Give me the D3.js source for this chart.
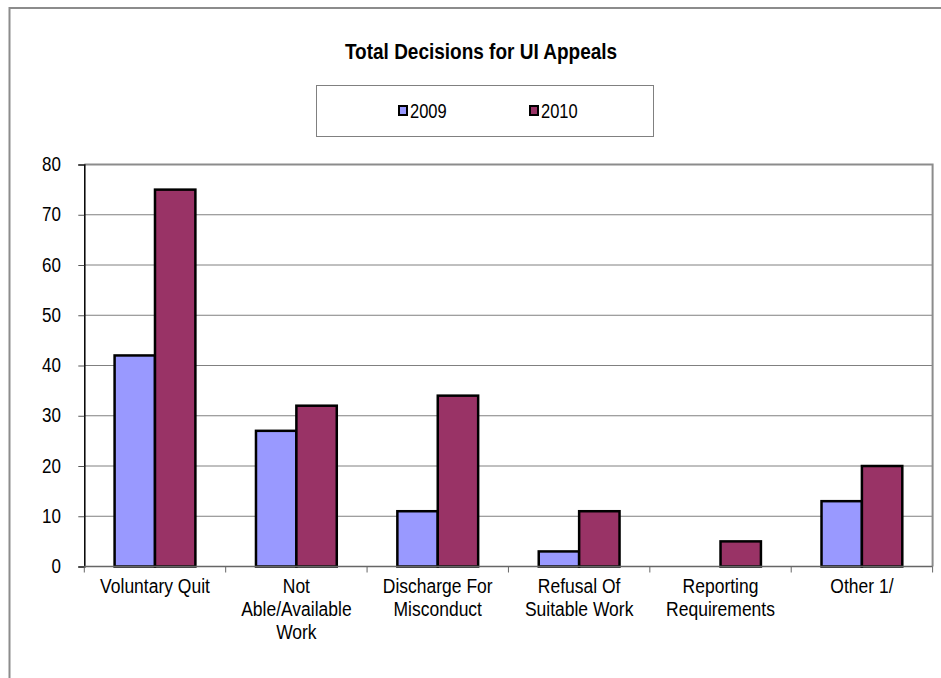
<!DOCTYPE html>
<html>
<head>
<meta charset="utf-8">
<script src="https://cdn.jsdelivr.net/npm/d3@7"></script>
<style>
  html, body { margin: 0; padding: 0; background: #fff; }
  svg { display: block; font-family: "Liberation Sans", Arial, sans-serif; }
</style>
</head>
<body>
<svg id="chart" width="941" height="678"></svg>
<script>
const categories = [
  ["Voluntary Quit"],
  ["Not", "Able/Available", "Work"],
  ["Discharge For", "Misconduct"],
  ["Refusal Of", "Suitable Work"],
  ["Reporting", "Requirements"],
  ["Other 1/"]
];
const seriesNames = ["2009", "2010"];
const values2009 = [42, 27, 11, 3, 0, 13];
const values2010 = [75, 32, 34, 11, 5, 20];
const yTicks = [0, 10, 20, 30, 40, 50, 60, 70, 80];
const colors = ["#9999FF", "#993366"];

(function () {
const svg = d3.select("#chart");
const SY = 1.2; // vertical stretch of the reference's text

// outer chart border
svg.append("rect").attr("x", 9.5).attr("y", 8).attr("width", 1000).attr("height", 800)
  .attr("fill", "#fff").attr("stroke", "#8c8c8c").attr("stroke-width", 2);

const pL = 84.3, pR = 932.6, pT = 164.5, pB = 566.5;

const x0 = d3.scaleBand().domain(d3.range(categories.length)).range([pL, pR]).paddingInner(0).paddingOuter(0);
const barW = x0.bandwidth() / 3.5;
const x1 = d3.scaleBand().domain(seriesNames).range([0, barW * 2]);
const y = d3.scaleLinear().domain([0, 80]).range([pB, pT]);

// gridlines
svg.append("g").selectAll("line").data(yTicks.filter(d => d > 0 && d < 80)).join("line")
  .attr("x1", pL).attr("x2", pR)
  .attr("y1", d => y(d)).attr("y2", d => y(d))
  .attr("stroke", "#808080").attr("stroke-width", 1);

// plot area top/right border
svg.append("path")
  .attr("d", `M${pL},${y(80)}H${pR}V${pB}`)
  .attr("fill", "none").attr("stroke", "#8c8c8c").attr("stroke-width", 2);

// bars
const data = categories.map((c, i) => ({ i, vals: [values2009[i], values2010[i]] }));
const groups = svg.append("g").selectAll("g").data(data).join("g")
  .attr("transform", d => `translate(${x0(d.i) + (x0.bandwidth() - barW * 2) / 2},0)`);
groups.selectAll("rect").data(d => d.vals.map((v, k) => ({ v, k })).filter(o => o.v > 0)).join("rect")
  .attr("x", o => x1(seriesNames[o.k]))
  .attr("y", o => y(o.v))
  .attr("width", x1.bandwidth())
  .attr("height", o => y(0) - y(o.v))
  .attr("fill", o => colors[o.k])
  .attr("stroke", "#000").attr("stroke-width", 2.5);

// y axis
const yAxis = d3.axisLeft(y).tickValues(yTicks).tickSize(6).tickFormat("");
const ya = svg.append("g").attr("transform", `translate(${pL},0)`).call(yAxis);
ya.select(".domain").attr("stroke", "#000").attr("stroke-width", 1.5);
ya.selectAll(".tick line").attr("stroke", "#555");
svg.append("g").selectAll("g").data(yTicks).join("g")
  .attr("transform", d => `translate(61,${y(d) + 6.5}) scale(1,${1.15})`)
  .append("text").attr("text-anchor", "end").attr("font-size", 17).attr("fill", "#000")
  .text(d => d);

// x axis
const xTickPos = d3.range(categories.length + 1).map(i => pL + i * x0.bandwidth());
const xa = svg.append("g");
xa.append("line").attr("x1", pL).attr("x2", pR).attr("y1", pB).attr("y2", pB)
  .attr("stroke", "#666").attr("stroke-width", 1.5);
xa.selectAll("line.t").data(xTickPos).join("line").attr("class", "t")
  .attr("x1", d => d).attr("x2", d => d).attr("y1", pB).attr("y2", pB + 6)
  .attr("stroke", "#666").attr("stroke-width", 1);
const xl = svg.append("g").selectAll("g").data(categories).join("g")
  .attr("transform", (d, i) => `translate(${x0(i) + x0.bandwidth() / 2},592.5) scale(1,${SY})`)
  .append("text")
  .attr("text-anchor", "middle")
  .attr("font-size", 17.5)
  .attr("fill", "#000");
xl.selectAll("tspan").data(d => d).join("tspan")
  .attr("x", 0)
  .attr("dy", (d, j) => j === 0 ? 0 : 23.5 / SY)
  .text(d => d);

// title
svg.append("g").attr("transform", `translate(481,58.5) scale(1,${SY})`)
  .append("text").attr("text-anchor", "middle")
  .attr("font-size", 19).attr("font-weight", "bold").attr("fill", "#000")
  .text("Total Decisions for UI Appeals");

// legend
const lg = svg.append("g");
lg.append("rect").attr("x", 316.5).attr("y", 85.5).attr("width", 337).attr("height", 51)
  .attr("fill", "#fff").attr("stroke", "#808080").attr("stroke-width", 1);
const legendX = [399, 530];
seriesNames.forEach((s, k) => {
  lg.append("rect").attr("x", legendX[k]).attr("y", 106).attr("width", 8).attr("height", 9)
    .attr("fill", colors[k]).attr("stroke", "#000").attr("stroke-width", 2);
  lg.append("g").attr("transform", `translate(${legendX[k] + 11},117.5) scale(1,${SY})`)
    .append("text").attr("font-size", 16.5)
    .attr("fill", "#000").text(s);
});
})();
</script>
</body>
</html>
